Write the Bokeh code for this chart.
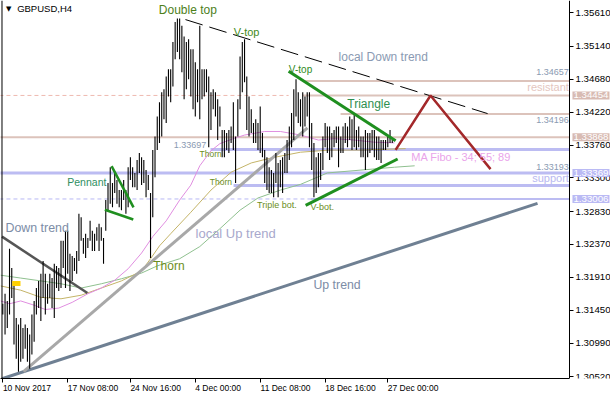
from bokeh.plotting import figure
from bokeh.models import Label, FixedTicker, PrintfTickFormatter, BoxAnnotation, LinearAxis, Span
from bokeh.embed import file_html
from bokeh.resources import INLINE

# ---------------- data ----------------
highs1 = [1.3154, 1.3168, 1.3158, 1.3231, 1.3204, 1.3186, 1.3134, 1.3125, 1.3134, 1.3120,
          1.3125, 1.3120, 1.3111, 1.3139, 1.3158, 1.3176, 1.3186, 1.3196, 1.3214, 1.3196,
          1.3182, 1.3196, 1.3190, 1.3210, 1.3207, 1.3204, 1.3242, 1.3242, 1.3256, 1.3256,
          1.3224, 1.3221, 1.3218, 1.3228, 1.3280, 1.3275, 1.3246, 1.3252, 1.3246, 1.3270,
          1.3256, 1.3252, 1.3261, 1.3266, 1.3261, 1.3246, 1.3299, 1.3323, 1.3345, 1.3323,
          1.3337, 1.3327, 1.3313, 1.3313, 1.3327, 1.3313, 1.3345, 1.3359, 1.3345, 1.3337,
          1.3355]
lows1 = [1.3139, 1.3111, 1.3120, 1.3139, 1.3162, 1.3097, 1.3077, 1.3059, 1.3073, 1.3077,
         1.3091, 1.3073, 1.3063, 1.3083, 1.3101, 1.3139, 1.3148, 1.3130, 1.3162, 1.3139,
         1.3154, 1.3162, 1.3148, 1.3134, 1.3176, 1.3172, 1.3176, 1.3204, 1.3176, 1.3196,
         1.3172, 1.3186, 1.3200, 1.3196, 1.3214, 1.3242, 1.3224, 1.3218, 1.3232, 1.3242,
         1.3228, 1.3228, 1.3242, 1.3228, 1.3242, 1.3210, 1.3256, 1.3285, 1.3294, 1.3289,
         1.3309, 1.3294, 1.3289, 1.3285, 1.3299, 1.3280, 1.3289, 1.3327, 1.3317, 1.3317,
         1.3313]
highs2 = [1.3365, 1.3359, 1.3355, 1.3341, 1.3334, 1.3309, 1.3369, 1.3388, 1.3416, 1.3436,
          1.3450, 1.3454, 1.3472, 1.3482, 1.3482, 1.3520, 1.3548, 1.3553, 1.3553, 1.3543,
          1.3528, 1.3520, 1.3524, 1.3510, 1.3510, 1.3492, 1.3482, 1.3543, 1.3482, 1.3482,
          1.3482, 1.3472, 1.3450, 1.3454, 1.3450, 1.3440, 1.3430, 1.3397, 1.3397, 1.3393,
          1.3397, 1.3402, 1.3436, 1.3388, 1.3440, 1.3500, 1.3520, 1.3524, 1.3472, 1.3444,
          1.3426, 1.3407, 1.3412, 1.3407, 1.3430, 1.3393]
lows2 = [1.3337, 1.3320, 1.3323, 1.3303, 1.3313, 1.3218, 1.3275, 1.3331, 1.3369, 1.3379,
         1.3388, 1.3412, 1.3407, 1.3444, 1.3436, 1.3458, 1.3496, 1.3506, 1.3496, 1.3478,
         1.3440, 1.3454, 1.3468, 1.3444, 1.3426, 1.3416, 1.3436, 1.3412, 1.3440, 1.3444,
         1.3450, 1.3373, 1.3397, 1.3426, 1.3416, 1.3383, 1.3402, 1.3359, 1.3359, 1.3369,
         1.3365, 1.3379, 1.3369, 1.3323, 1.3388, 1.3426, 1.3450, 1.3464, 1.3397, 1.3388,
         1.3393, 1.3379, 1.3379, 1.3369, 1.3365, 1.3359]
highs3 = [1.3369, 1.3359, 1.3345, 1.3341, 1.3337, 1.3365, 1.3351, 1.3355, 1.3359, 1.3365,
          1.3383, 1.3402, 1.3421, 1.3454, 1.3468, 1.3450, 1.3440, 1.3450, 1.3444, 1.3450,
          1.3450, 1.3407, 1.3379, 1.3359, 1.3365, 1.3365, 1.3388, 1.3407, 1.3402, 1.3402,
          1.3393, 1.3397, 1.3402, 1.3402, 1.3388, 1.3402, 1.3407, 1.3402, 1.3416, 1.3412,
          1.3421, 1.3397, 1.3402, 1.3388, 1.3388, 1.3397, 1.3393, 1.3393, 1.3397, 1.3397,
          1.3388, 1.3388, 1.3383, 1.3383, 1.3383, 1.3388, 1.3397, 1.3383]
lows3 = [1.3323, 1.3313, 1.3309, 1.3309, 1.3303, 1.3323, 1.3303, 1.3317, 1.3309, 1.3337,
         1.3337, 1.3355, 1.3373, 1.3383, 1.3416, 1.3407, 1.3402, 1.3388, 1.3402, 1.3416,
         1.3373, 1.3341, 1.3303, 1.3309, 1.3317, 1.3327, 1.3341, 1.3373, 1.3365, 1.3355,
         1.3359, 1.3373, 1.3379, 1.3345, 1.3365, 1.3365, 1.3379, 1.3373, 1.3383, 1.3369,
         1.3373, 1.3369, 1.3373, 1.3359, 1.3359, 1.3341, 1.3359, 1.3365, 1.3369, 1.3359,
         1.3355, 1.3355, 1.3351, 1.3369, 1.3369, 1.3373, 1.3379, 1.3379]
highs = highs1 + highs2 + highs3
lows = lows1 + lows2 + lows3
bars = list(range(len(highs)))

x_tick_bars = [0, 29, 57, 86, 115, 144, 172]
x_tick_labels = ["10 Nov 2017", "17 Nov 08:00", "24 Nov 16:00", "4 Dec 00:00",
                 "11 Dec 08:00", "18 Dec 16:00", "27 Dec 00:00"]
# half label widths (in bars) so that each label starts at its tick, as in the original
x_label_shift = [10.8, 11.3, 11.3, 10.2, 11.3, 11.3, 11.3]
y_ticks = [1.30520, 1.30990, 1.31450, 1.31910, 1.32370, 1.32830, 1.33300,
           1.33760, 1.34220, 1.34680, 1.35140, 1.35610]

ma34_bars = [-1, 3, 8, 14, 19, 25, 31, 38, 44, 50, 56, 62, 67, 73, 79, 84, 88, 93, 97,
             103, 108, 117, 124, 133, 141, 148, 157, 166, 175]
ma34 = [1.3158, 1.3154, 1.3158, 1.3152, 1.3146, 1.3148, 1.3156, 1.3168, 1.3176, 1.3187,
        1.3203, 1.3225, 1.3248, 1.3270, 1.3299, 1.3320, 1.3347, 1.3368, 1.3378, 1.3385,
        1.3390, 1.3395, 1.3395, 1.3390, 1.3383, 1.3385, 1.3383, 1.3380, 1.3379]
ma55_bars = [-1, 8, 17, 26, 35, 44, 53, 62, 66, 70, 75, 84, 93, 102, 111, 120, 133, 146, 160, 180]
ma55 = [1.3179, 1.3173, 1.3163, 1.3161, 1.3166, 1.3176, 1.3186, 1.3200, 1.3217, 1.3235,
        1.3252, 1.3282, 1.3313, 1.3338, 1.3351, 1.3358, 1.3366, 1.3369, 1.3369, 1.3371]
ma89_bars = [-1, 8, 17, 26, 35, 44, 53, 62, 69, 79, 88, 97, 106, 114, 124, 133, 145, 160, 175, 184]
ma89 = [1.3194, 1.3190, 1.3186, 1.3182, 1.3176, 1.3182, 1.3189, 1.3197, 1.3207, 1.3217,
        1.3234, 1.3259, 1.3285, 1.3302, 1.3313, 1.3321, 1.3337, 1.3341, 1.3345, 1.3347]

resist_levels = [1.34657, 1.34454, 1.34196, 1.33868]
resist_start = [133.9, 133.9, 150.9, -1.5]
support_levels = [1.33697, 1.33369, 1.33193]
support_start = [92.8, -1.5, 103.1]
box_levels = [1.34454, 1.33868, 1.33369, 1.33006]

X_AXIS_AT = 253.2   # bar position of the price scale (right edge of the chart area)

# ---------------- figure ----------------
p = figure(width=610, height=400, x_range=(-1.03, 271.5), y_range=(1.30495, 1.35782),
           y_axis_location="right", output_backend="svg", toolbar_location=None,
           min_border_left=0, min_border_top=0, min_border_right=0, min_border_bottom=22,
           background_fill_color="white", border_fill_color="white")
p.grid.visible = False
p.outline_line_color = None

FONT = "Liberation Sans"
ya = p.yaxis[0]
ya.fixed_location = X_AXIS_AT
ya.ticker = FixedTicker(ticks=y_ticks, minor_ticks=[])
ya.formatter = PrintfTickFormatter(format="%.5f")
ya.major_tick_in = 0
ya.major_tick_out = 4
ya.major_label_standoff = 2
ya.major_label_text_font = FONT
ya.major_label_text_font_size = "9.7px"
ya.major_label_text_color = "black"
ya.axis_line_color = "black"
ya.major_tick_line_color = "black"

# tick marks at the bars
xa = p.xaxis[0]
xa.ticker = FixedTicker(ticks=x_tick_bars, minor_ticks=[])
xa.major_label_overrides = {b: "" for b in x_tick_bars}
xa.major_label_text_font_size = "1px"
xa.major_tick_in = 0
xa.major_tick_out = 4
xa.major_label_standoff = 0
xa.axis_line_color = "black"
xa.bounds = (-1.03, X_AXIS_AT)

# date labels, starting at their tick
label_pos = [b + s for b, s in zip(x_tick_bars, x_label_shift)]
xb = LinearAxis(ticker=FixedTicker(ticks=label_pos, minor_ticks=[]))
xb.major_label_overrides = {lp: t for lp, t in zip(label_pos, x_tick_labels)}
xb.major_tick_in = 0
xb.major_tick_out = 0
xb.major_label_standoff = 0
xb.axis_line_color = None
xb.major_label_text_font = FONT
xb.major_label_text_font_size = "8.5px"
xb.major_label_text_color = "black"
p.add_layout(xb, "below")

# left border of the chart area
p.add_layout(Span(location=-0.36, dimension="height", line_color="black", line_width=1))

# ---------------- level lines ----------------
rosy = "#dcc3bb"
lav = "#bcbcf2"
p.segment(x0=resist_start, y0=resist_levels, x1=[X_AXIS_AT] * 4, y1=resist_levels,
          line_color=rosy, line_width=2)
p.segment(x0=[-1.5], y0=[resist_levels[1]], x1=[127.7], y1=[resist_levels[1]],
          line_color="#efb9b0", line_width=1, line_dash="4 3")
p.segment(x0=support_start, y0=support_levels, x1=[X_AXIS_AT] * 3, y1=support_levels,
          line_color=lav, line_width=3)
p.segment(x0=[-1.5], y0=[box_levels[3]], x1=[137.5], y1=[box_levels[3]],
          line_color="#b8b8f4", line_width=1, line_dash="4 3")
p.segment(x0=[137.5], y0=[box_levels[3]], x1=[X_AXIS_AT], y1=[box_levels[3]],
          line_color=lav, line_width=2)

# ---------------- moving averages ----------------
p.line(ma89_bars, ma89, line_color="#8fc08f", line_width=1)
p.line(ma55_bars, ma55, line_color="#c4b468", line_width=1)
p.line(ma34_bars, ma34, line_color="#e08ee0", line_width=1)

# ---------------- trend lines ----------------
p.line([-0.36, 238.9], [1.30491, 1.32945], line_color="#6f8093", line_width=3)
p.line([9.25, 136.1], [1.30590, 1.34002], line_color="#a8a8a8", line_width=3)
p.line([-0.36, 37.8], [1.32479, 1.31690], line_color="#555555", line_width=2.5)

# ---------------- bars ----------------
p.segment(x0=bars, y0=lows, x1=bars, y1=highs, line_color="black", line_width=1.1)

p.line([81.6, 216.6], [1.35515, 1.34200], line_color="black", line_width=1, line_dash="18 7")
p.line([127.7, 175.5], [1.34792, 1.33819], line_color="#1f8f1f", line_width=3)
p.line([135.3, 176.4], [1.32917, 1.33565], line_color="#1f8f1f", line_width=3)
p.line([48.6, 58.4], [1.33466, 1.32888], line_color="#1f8f1f", line_width=2.5)
p.line([45.6, 58.3], [1.32856, 1.32719], line_color="#1f8f1f", line_width=2.5)
p.line([175.5, 191.1, 217.9], [1.33692, 1.34453, 1.33424], line_color="#a3282a", line_width=2.5)

p.add_layout(BoxAnnotation(left=4.2, right=7.9, top=1.31859, bottom=1.31788,
                           fill_color="#ffd000", fill_alpha=1, line_color=None))


def txt(x, y, s, color, size, align="left", font=FONT):
    p.add_layout(Label(x=x, y=y, text=s, text_color=color, text_font_size=f"{size}px",
                       text_align=align, text_baseline="middle", text_font=font))


txt(6.4, 1.35666, "GBPUSD,H4", "black", 9.5)
txt(1.4, 1.35666, "\u25bc", "black", 7, font="DejaVu Sans")
txt(69.7, 1.35656, "Double top", "#4d7f1b", 12)
txt(103.2, 1.35337, "V-top", "#3f8a22", 11)
txt(127.8, 1.34820, "V-top", "#2f8a22", 10)
txt(150.0, 1.34990, "local Down trend", "#8a9ab2", 12)
txt(153.9, 1.34336, "Triangle", "#2f8f4f", 12)
txt(87.9, 1.33636, "Thorn", "#6b8e23", 8.5)
txt(92.5, 1.33245, "Thorn", "#6b8e23", 8.5)
txt(67.2, 1.32071, "Thorn", "#6b8e23", 12)
txt(76.4, 1.33763, "1.33697", "#8a9ab2", 9)
txt(113.6, 1.32917, "Triple bot.", "#6b8e23", 9)
txt(137.5, 1.32888, "V-bot.", "#6b8e23", 9)
txt(28.8, 1.33245, "Pennant", "#2f8f5f", 10.5)
txt(1.2, 1.32597, "Down trend", "#7c8ca6", 12.4)
txt(86.1, 1.32522, "local  Up trend", "#a8a8cc", 13)
txt(138.8, 1.31803, "Up trend", "#7c8ca6", 12.3)
txt(182.5, 1.33589, "MA Fibo - 34; 55; 89", "#eaa4ea", 11)
txt(252.9, 1.34788, "1.34657", "#8a9ab2", 9, align="right")
txt(252.9, 1.34576, "resistant", "#e4c6be", 11, align="right")
txt(252.9, 1.34115, "1.34196", "#8a9ab2", 9, align="right")
txt(252.9, 1.33457, "1.33193", "#8a9ab2", 9, align="right")
txt(252.9, 1.33293, "support", "#b8b8f0", 11, align="right")

# price boxes on the price scale
box_cols = ["#d8bbb3", "#d8bbb3", "#babaf4", "#babaf4"]
for lvl, col in zip(box_levels, box_cols):
    p.add_layout(Label(x=254.5, y=lvl, text=f"{lvl:.5f}", text_color="white",
                       text_font=FONT, text_font_size="9.7px", text_align="left",
                       text_baseline="middle", background_fill_color=col,
                       background_fill_alpha=1, padding=1))

open("out.html", "w").write(file_html(p, INLINE))
